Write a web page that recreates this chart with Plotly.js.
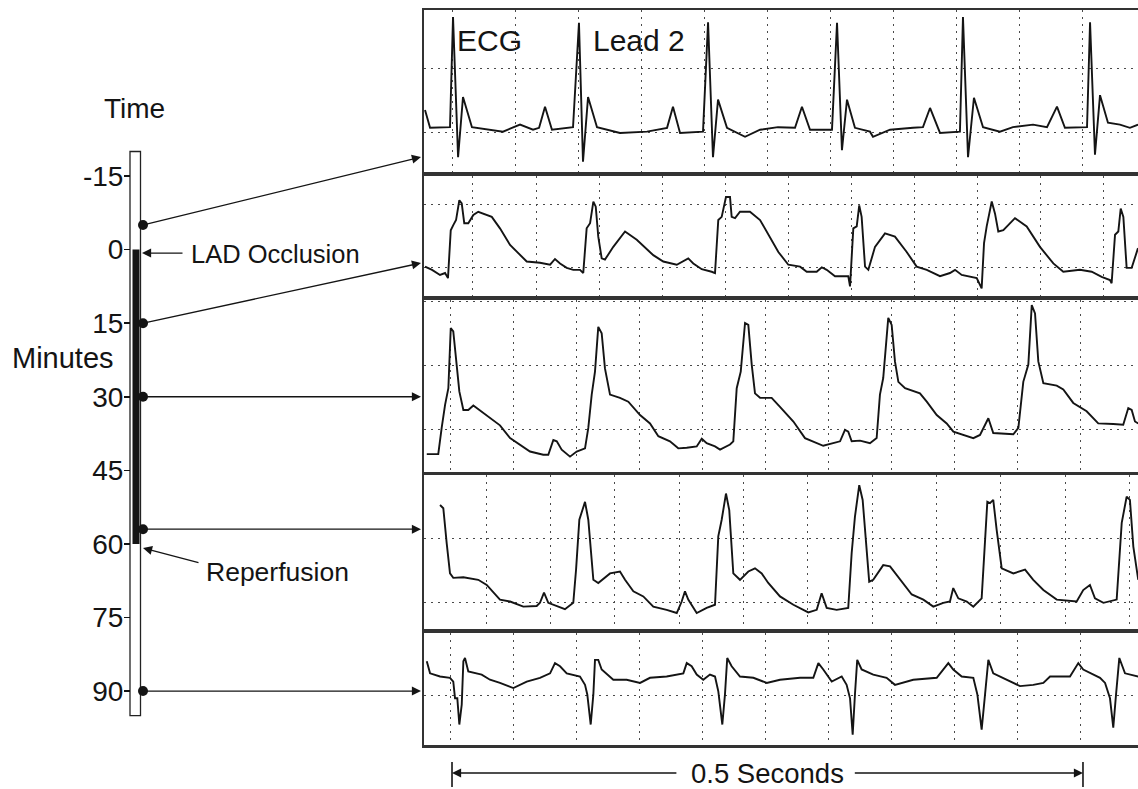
<!DOCTYPE html>
<html><head><meta charset="utf-8">
<script src="https://cdn.plot.ly/plotly-3.0.1.min.js"></script>
<style>html,body{margin:0;padding:0;background:#fff;} #chart{width:1138px;height:789px;}</style>
</head><body><div id="chart"></div>
<script>
// ---------------- DATA ----------------
// Timeline (minutes)
const minuteTicks = [-15, 0, 15, 30, 45, 60, 75, 90];
const minuteTickLabels = ['-15', '0', '15', '30', '45', '60', '75', '90'];
const sampleMinutes = [-5, 15, 30, 57, 90];
const occlusionMinutes = [0, 60];
const timelineSpan = [-20, 95];

// ECG Lead 2 traces: time (ms) and amplitude (mV, 1 grid = 1 unit)
const p1_ms = [-21.4,-17.4,-1.6,0.8,4.8,8.7,15.8,40.4,53.9,64.2,69.0,73.7,79.2,95.9,100.6,103.8,107.8,114.9,133.1,154.5,170.4,175.1,180.7,198.9,202.9,206.8,210.8,217.9,232.2,244.1,258.3,271.8,277.3,283.7,301.1,305.1,309.0,313.0,319.3,331.2,333.6,347.1,365.3,373.2,378.8,386.7,402.5,404.9,408.9,413.6,420.8,434.2,444.5,460.4,471.5,479.4,485.7,503.2,505.6,509.5,513.5,519.8,529.3,537.2,543.6];
const p1_mV = [0.36,0.08,0.09,1.81,-0.38,0.56,0.09,0.02,0.13,0.05,0.08,0.41,0.05,0.09,1.72,-0.45,0.56,0.09,0,0.02,0.08,0.41,0,0.02,1.73,-0.38,0.52,0.08,-0.06,0.05,0.09,0.08,0.41,0.05,0.05,1.72,-0.27,0.52,0.08,0.02,-0.06,0.05,0.08,0.09,0.39,0,0.02,1.81,-0.38,0.55,0.09,0.02,0.09,0.13,0.09,0.41,0.08,0.09,1.73,-0.34,0.59,0.16,0.13,0.08,0.13];

const p2_ms = [-21.4,-15.8,-9.5,-5.5,-3.2,-1.0,1.0,3.2,5.8,7.7,9.7,12.9,16.9,20.8,31.5,38.0,46.0,53.9,59.2,69.7,77.7,81.6,85.6,90.9,96.1,101.4,104.0,106.7,109.4,112.0,113.9,115.9,118.6,121.2,127.8,137.1,146.4,159.5,167.4,178.1,187.2,191.2,197.9,205.8,208.4,211.0,213.7,217.1,220.3,221.6,224.3,228.2,236.1,244.1,252.0,258.6,266.5,275.8,281.1,289.0,293.0,296.9,303.5,314.0,315.4,318.0,320.7,322.7,324.6,327.3,329.9,335.2,343.1,351.0,360.3,368.2,376.2,386.7,394.6,398.6,403.9,415.8,419.7,421.6,423.7,427.7,430.3,432.9,436.9,446.1,455.4,465.9,476.5,484.4,497.6,506.9,514.8,521.4,522.7,525.4,528.0,529.9,532.0,534.6,538.6,543.6];
const p2_mV = [0.02,-0.03,-0.11,-0.08,-0.16,0.59,0.67,0.75,1.06,1.01,0.70,0.70,0.83,0.88,0.80,0.62,0.36,0.20,0.10,0.08,0.05,0.14,0.07,0.00,-0.03,-0.03,-0.08,0.62,0.70,1.04,0.96,0.49,0.15,0.13,0.33,0.57,0.44,0.20,0.10,0.05,0.15,0.07,-0.02,-0.06,-0.08,0.75,0.80,1.11,1.11,0.80,0.78,0.88,0.88,0.75,0.49,0.25,0.05,0.02,-0.06,-0.06,0.01,-0.03,-0.13,-0.13,-0.29,0.62,0.65,0.98,0.80,0.02,-0.03,0.33,0.54,0.49,0.25,0.02,-0.03,-0.13,-0.08,-0.03,-0.11,-0.16,-0.32,0.39,0.65,1.04,0.85,0.57,0.59,0.78,0.65,0.33,0.07,-0.06,-0.03,-0.06,-0.14,-0.19,-0.24,0.52,0.57,0.93,0.80,0.00,0.00,0.31];

const p3_ms = [-20.0,-10.9,-8.2,-5.5,-2.9,-1.0,1.0,3.7,5.8,9.0,12.9,16.9,27.5,38.0,46.0,53.9,61.8,72.3,76.3,80.3,83.0,86.9,93.5,98.8,105.4,108.0,110.7,113.3,115.9,118.6,121.2,125.2,133.1,139.7,149.0,156.9,163.5,172.7,179.3,186.0,193.9,197.9,201.8,208.4,212.4,220.3,222.9,225.6,228.8,232.2,234.8,237.5,240.1,244.1,253.3,259.9,270.5,279.7,294.2,307.5,311.4,314.0,316.7,323.3,331.2,336.5,339.1,341.7,345.7,348.4,351.0,353.7,359.0,370.8,376.2,384.1,392.0,397.3,405.2,413.1,418.4,425.0,428.9,444.8,448.8,452.7,456.7,459.4,462.0,464.6,468.6,479.2,484.4,492.3,502.9,512.1,524.0,531.9,535.9,538.6,541.2,543.8];
const p3_mV = [-0.38,-0.38,0.03,0.39,0.65,1.59,1.54,1.07,0.60,0.31,0.31,0.38,0.23,0.07,-0.13,-0.23,-0.34,-0.39,-0.39,-0.16,-0.18,-0.31,-0.42,-0.34,-0.29,0.03,0.55,0.91,1.61,1.51,0.96,0.55,0.50,0.44,0.23,0.10,-0.10,-0.18,-0.29,-0.28,-0.26,-0.14,-0.21,-0.26,-0.31,-0.23,-0.18,0.65,0.91,1.67,1.64,1.02,0.57,0.50,0.50,0.36,0.13,-0.13,-0.25,-0.18,0.00,-0.03,-0.18,-0.17,-0.21,-0.13,0.55,0.81,1.75,1.64,1.07,0.75,0.65,0.57,0.44,0.23,0.10,-0.03,-0.08,-0.13,-0.08,0.18,-0.05,-0.07,0.03,0.75,1.02,1.95,1.82,1.07,0.73,0.69,0.63,0.42,0.29,0.10,0.09,0.08,0.34,0.31,0.13,0.10];

const p4_ms = [-9.5,-6.9,-4.2,-1.6,1.0,9.0,20.8,27.5,38.0,46.0,56.5,67.1,69.7,72.9,76.3,80.3,89.5,96.1,98.3,100.9,103.6,105.4,108.0,112.0,115.9,125.2,133.1,137.1,143.7,151.6,159.5,170.1,178.1,182.0,184.6,187.2,193.9,201.8,208.4,211.0,213.7,217.1,219.7,222.9,228.2,234.8,240.1,245.4,250.6,259.9,270.5,282.3,289.0,292.9,296.9,304.8,314.0,316.7,319.3,322.7,325.4,330.6,333.8,341.7,347.1,355.0,364.3,373.5,381.4,389.3,394.6,397.2,401.2,407.9,413.1,419.7,422.4,424.2,426.3,428.9,431.6,435.6,444.8,454.1,460.6,468.6,479.2,495.0,500.2,505.5,509.5,516.2,526.7,528.8,530.7,534.6,537.2,539.9,543.8];
const p4_mV = [1.53,1.48,0.93,0.46,0.39,0.40,0.36,0.28,0.05,0.02,-0.06,-0.05,0.00,0.16,0.00,-0.03,-0.10,0.00,0.52,1.30,1.45,1.58,1.30,0.36,0.31,0.46,0.49,0.36,0.18,0.10,-0.06,-0.11,-0.16,0.02,0.18,0.05,-0.16,-0.08,-0.03,1.04,1.30,1.71,1.45,0.46,0.36,0.49,0.54,0.46,0.31,0.10,-0.03,-0.15,-0.11,0.15,-0.08,-0.11,-0.08,0.78,1.35,1.84,1.61,0.33,0.36,0.59,0.57,0.36,0.13,0.05,-0.06,0.00,0.02,0.23,0.07,0.02,-0.06,0.07,1.04,1.58,1.56,1.61,1.14,0.54,0.46,0.52,0.36,0.20,0.05,0.02,0.20,0.28,0.07,0.00,0.05,0.78,1.25,1.66,1.61,0.88,0.36];

const p5_ms = [-20.0,-17.4,-9.5,-1.6,1.0,2.4,4.2,5.8,7.7,9.0,10.3,12.9,23.5,30.1,38.0,48.6,59.2,69.7,77.7,81.6,85.6,90.9,101.4,105.4,107.2,109.9,112.0,113.3,115.9,118.6,127.8,138.4,149.0,156.9,170.1,183.3,186.0,189.9,193.9,199.1,204.4,208.4,211.0,214.2,216.3,218.1,221.6,228.2,238.8,249.4,259.9,275.8,286.3,290.3,294.2,300.9,308.8,312.7,315.4,317.5,319.3,321.1,324.6,333.8,344.4,351.0,365.5,384.1,393.3,397.2,403.9,413.1,416.3,419.7,422.4,425.0,428.9,439.5,450.1,460.6,468.6,473.9,489.7,496.3,500.2,513.5,517.5,521.4,524.0,526.2,528.8,533.3,543.8];
const p5_mV = [0.54,0.35,0.30,0.28,0.22,-0.04,-0.04,-0.45,-0.14,0.54,0.59,0.38,0.33,0.25,0.20,0.12,0.22,0.28,0.35,0.51,0.46,0.35,0.30,0.17,0.02,-0.45,0.02,0.56,0.56,0.41,0.25,0.25,0.20,0.28,0.30,0.35,0.51,0.46,0.33,0.25,0.33,0.30,0.07,-0.45,0.02,0.59,0.46,0.30,0.28,0.20,0.25,0.28,0.28,0.51,0.41,0.22,0.30,0.17,-0.04,-0.61,0.02,0.56,0.41,0.33,0.28,0.17,0.25,0.28,0.51,0.41,0.30,0.28,0.02,-0.53,0.02,0.56,0.35,0.25,0.15,0.17,0.20,0.30,0.30,0.51,0.41,0.28,0.20,-0.04,-0.50,0.02,0.59,0.35,0.30];

const scaleBarMs = [0, 500];
const scaleBarLabel = '0.5 Seconds';

// ---------------- LAYOUT ----------------
const W = 1138, H = 789;
const FONT = 'Liberation Sans, Arial, Helvetica, sans-serif';
const INK = '#141414';
const panels = [[p1_ms, p1_mV], [p2_ms, p2_mV], [p3_ms, p3_mV], [p4_ms, p4_mV], [p5_ms, p5_mV]];
const panelPx = [[10, 172], [176, 296], [300, 472], [475, 629], [633, 745]];
const panelYRange = [[-0.61, 1.92], [-0.44, 1.44], [-0.66, 2.03], [-0.41, 2.0], [-0.77, 0.98]];
const gridTick0 = [0, 16.6, -1.6, 27, -1.6];
const gridDtick = [50, 50, 50, 51, 50];
const msRange = [-22.2, 543.6];
const panelLeft = 424 / W;

// timeline geometry: minute <-> pixel row
const MIN0_PX = 249.6, PX_PER_MIN = 4.905;
const pxToMin = py => (py - MIN0_PX) / PX_PER_MIN;
const DOT_X = 143;

const traces = panels.map((p, i) => {
  const k = i ? (i + 1) : '';
  return {x: p[0], y: p[1], xaxis: 'x' + k, yaxis: 'y' + k, mode: 'lines',
    line: {color: INK, width: 1.9}, hoverinfo: 'skip', showlegend: false};
});
traces.push({x: sampleMinutes.map(() => DOT_X), y: sampleMinutes, xaxis: 'x6', yaxis: 'y6',
  mode: 'markers', marker: {size: 10, color: INK}, cliponaxis: false, hoverinfo: 'skip', showlegend: false});

const layout = {
  width: W, height: H, margin: {l: 0, r: 0, t: 0, b: 0, pad: 0},
  paper_bgcolor: '#fff', plot_bgcolor: '#fff', showlegend: false, hovermode: false,
  font: {family: FONT, color: INK},
  shapes: [], annotations: []
};

panels.forEach((p, i) => {
  const k = i ? (i + 1) : '';
  const [top, bot] = panelPx[i];
  layout['xaxis' + k] = {domain: [panelLeft, 1], range: msRange, anchor: 'y' + k,
    showticklabels: false, ticks: '', showgrid: true, gridcolor: '#4a4a4a', gridwidth: 1, griddash: '2px,5px',
    tick0: gridTick0[i], dtick: gridDtick[i], zeroline: false,
    showline: true, mirror: true, linecolor: '#333', linewidth: 2.5, fixedrange: true};
  layout['yaxis' + k] = {domain: [1 - bot / H, 1 - top / H], range: panelYRange[i], anchor: 'x' + k,
    showticklabels: false, ticks: '', showgrid: true, gridcolor: '#4a4a4a', gridwidth: 1, griddash: '2px,5px',
    tick0: 0, dtick: 1, zeroline: false,
    showline: true, mirror: false, linecolor: '#333', linewidth: 2.5, fixedrange: true};
});

layout.xaxis6 = {domain: [0, panelLeft], range: [0, 424], anchor: 'y6', visible: false, fixedrange: true};
layout.yaxis6 = {domain: [0, 1], range: [pxToMin(H), pxToMin(0)], anchor: 'free', position: 130 / W,
  tickmode: 'array', tickvals: minuteTicks, ticktext: minuteTickLabels,
  ticks: 'outside', ticklen: 6, tickwidth: 1.5, tickcolor: INK, ticklabelstandoff: -5,
  tickfont: {family: FONT, size: 28, color: INK},
  showgrid: false, zeroline: false, showline: false, fixedrange: true};

// timeline bar
layout.shapes.push({type: 'rect', xref: 'x6', yref: 'y6', x0: 130, x1: 140.5, y0: timelineSpan[0], y1: timelineSpan[1],
  line: {color: '#222', width: 1.3}, fillcolor: '#fff', layer: 'below'});
layout.shapes.push({type: 'rect', xref: 'x6', yref: 'y6', x0: 132.5, x1: 139.5, y0: occlusionMinutes[0], y1: occlusionMinutes[1],
  line: {width: 0}, fillcolor: INK, layer: 'below'});

// arrows from timeline samples to ECG panels
const arrowTargets = [pxToMin(157), pxToMin(263), sampleMinutes[2], sampleMinutes[3], sampleMinutes[4]];
const arrowStyle = {showarrow: true, arrowhead: 2, arrowsize: 1.4, arrowwidth: 1.3, arrowcolor: INK, standoff: 0, text: ''};
sampleMinutes.forEach((m, i) => {
  layout.annotations.push(Object.assign({xref: 'x6', yref: 'y6', axref: 'x6', ayref: 'y6',
    x: 421, y: arrowTargets[i], ax: DOT_X, ay: m}, arrowStyle));
});

// LAD Occlusion + Reperfusion labels
layout.annotations.push(Object.assign({xref: 'x6', yref: 'y6', axref: 'x6', ayref: 'y6',
  x: 142, y: occlusionMinutes[0] + 0.7, ax: 184, ay: occlusionMinutes[0] + 0.7}, arrowStyle));
layout.annotations.push({xref: 'x6', yref: 'y6', x: 189, y: pxToMin(254), text: 'LAD Occlusion', showarrow: false,
  xanchor: 'left', yanchor: 'middle', font: {family: FONT, size: 25.5, color: INK}});
layout.annotations.push(Object.assign({xref: 'x6', yref: 'y6', axref: 'x6', ayref: 'y6',
  x: 143, y: pxToMin(548), ax: 200, ay: pxToMin(563)}, arrowStyle));
layout.annotations.push({xref: 'x6', yref: 'y6', x: 204, y: pxToMin(572), text: 'Reperfusion', showarrow: false,
  xanchor: 'left', yanchor: 'middle', font: {family: FONT, size: 26.5, color: INK}});

// axis-style labels
layout.annotations.push({xref: 'paper', yref: 'paper', x: 134 / W, y: 1 - 108 / H, text: 'Time', showarrow: false,
  xanchor: 'center', yanchor: 'middle', font: {family: FONT, size: 28, color: INK}});
layout.annotations.push({xref: 'paper', yref: 'paper', x: 63 / W, y: 1 - 358 / H, text: 'Minutes', showarrow: false,
  xanchor: 'center', yanchor: 'middle', font: {family: FONT, size: 29, color: INK}});
layout.annotations.push({xref: 'paper', yref: 'paper', x: 455 / W, y: 1 - 40 / H, text: 'ECG', showarrow: false,
  xanchor: 'left', yanchor: 'middle', font: {family: FONT, size: 30, color: INK}});
layout.annotations.push({xref: 'paper', yref: 'paper', x: 591 / W, y: 1 - 40 / H, text: 'Lead 2', showarrow: false,
  xanchor: 'left', yanchor: 'middle', font: {family: FONT, size: 30, color: INK}});

// 0.5 second scale bar (on panel-5 time axis)
const sbY = 1 - 773 / H;
const sbMid = (scaleBarMs[0] + scaleBarMs[1]) / 2;
layout.annotations.push({xref: 'x5', yref: 'paper', x: sbMid, y: sbY, text: scaleBarLabel, showarrow: false,
  xanchor: 'center', yanchor: 'middle', font: {family: FONT, size: 27.5, color: INK}});
layout.annotations.push(Object.assign({xref: 'x5', yref: 'paper', axref: 'x5', ayref: 'pixel',
  x: scaleBarMs[0], y: sbY, ax: sbMid - 71, ay: 0}, arrowStyle));
layout.annotations.push(Object.assign({xref: 'x5', yref: 'paper', axref: 'x5', ayref: 'pixel',
  x: scaleBarMs[1], y: sbY, ax: sbMid + 68, ay: 0}, arrowStyle));
scaleBarMs.forEach(t => layout.shapes.push({type: 'line', xref: 'x5', yref: 'paper', x0: t, x1: t,
  y0: 1 - 787 / H, y1: 1 - 762 / H, line: {color: INK, width: 1.6}}));

Plotly.newPlot('chart', traces, layout, {staticPlot: true, displayModeBar: false});
</script>
</body></html>
